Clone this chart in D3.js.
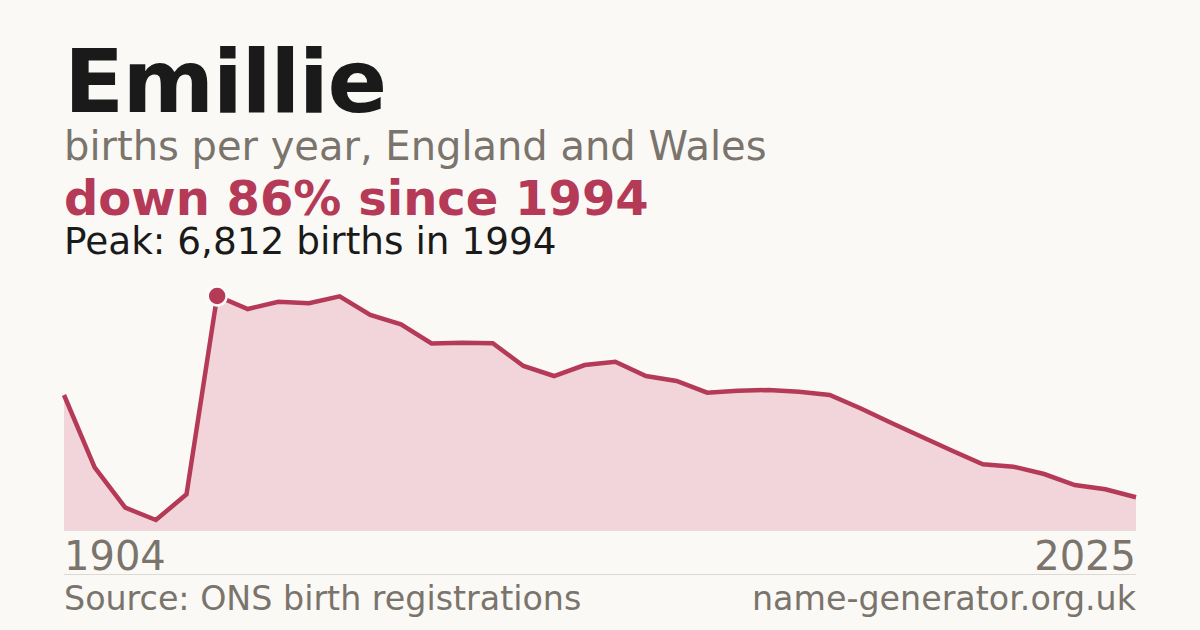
<!DOCTYPE html>
<html>
<head>
<meta charset="utf-8">
<script src="https://cdn.jsdelivr.net/npm/d3@7"></script>
<style>
  html, body { margin: 0; padding: 0; background: #faf9f5; }
  svg { display: block; font-family: "DejaVu Sans", sans-serif; }
</style>
</head>
<body>
<div id="chart"></div>
<script>
// data
var years = [1904, 1990, 1991, 1992, 1993, 1994, 1995, 1996, 1997, 1998, 1999, 2000,
             2001, 2002, 2003, 2004, 2005, 2006, 2007, 2008, 2009, 2010, 2011, 2012,
             2013, 2014, 2015, 2016, 2017, 2018, 2019, 2020, 2021, 2022, 2023, 2025];
var births = [3930, 1825, 649, 291, 1039, 6812, 6433, 6646, 6599, 6800, 6259, 5988,
              5429, 5452, 5435, 4774, 4483, 4803, 4899, 4483, 4337, 3997, 4055, 4075,
              4026, 3930, 3543, 3124, 2716, 2308, 1913, 1843, 1630, 1310, 1185, 954];
var tickLabels = ["1904", "2025"];

var name = "Emillie";
var subtitle = "births per year, England and Wales";
var headline = "down 86% since 1994";
var peakText = "Peak: 6,812 births in 1994";
var source = "Source: ONS birth registrations";
var site = "name-generator.org.uk";

var W = 1200, H = 630;
var margin = {left: 64, right: 64};
var plotTop = 296, plotBottom = 530;

var svg = d3.select("#chart").append("svg")
  .attr("width", W).attr("height", H);

svg.append("rect").attr("width", W).attr("height", H).attr("fill", "#faf9f5");

// titles
svg.append("text").attr("x", 64).attr("y", 112)
  .style("font-size", "88px").style("font-weight", "bold")
  .style("letter-spacing", "-1.5px").attr("fill", "#1a1a1a")
  .text(name);
svg.append("text").attr("x", 64).attr("y", 160)
  .style("font-size", "40px").attr("fill", "#7a746c")
  .text(subtitle);
svg.append("text").attr("x", 64).attr("y", 215)
  .style("font-size", "48px").style("font-weight", "bold").attr("fill", "#b43a58")
  .text(headline);
svg.append("text").attr("x", 64).attr("y", 254)
  .style("font-size", "37.4px").attr("fill", "#1a1a1a")
  .text(peakText);

// scales
var x = d3.scalePoint().domain(years).range([margin.left, W - margin.right]);
var y = d3.scaleLinear().domain([0, d3.max(births)]).range([plotBottom, plotTop]);

var pts = years.map(function(d, i) { return {year: d, value: births[i]}; });

var area = d3.area()
  .x(function(d) { return x(d.year); })
  .y0(plotBottom)
  .y1(function(d) { return y(d.value); });

var line = d3.line()
  .x(function(d) { return x(d.year); })
  .y(function(d) { return y(d.value); });

svg.append("path").datum(pts)
  .attr("d", area).attr("fill", "#f1d5da");

svg.append("line")
  .attr("x1", margin.left).attr("x2", W - margin.right)
  .attr("y1", plotBottom + 0.5).attr("y2", plotBottom + 0.5)
  .attr("stroke", "#e6dcd8").attr("stroke-width", 1);

svg.append("path").datum(pts)
  .attr("d", line).attr("fill", "none")
  .attr("stroke", "#b43a58").attr("stroke-width", 4.5)
  .attr("stroke-linejoin", "miter");

// peak marker
var peakIdx = d3.maxIndex(births);
svg.append("circle")
  .attr("cx", x(years[peakIdx])).attr("cy", y(births[peakIdx]))
  .attr("r", 9.5).attr("fill", "#b43a58")
  .attr("stroke", "#fdfcfa").attr("stroke-width", 2.5);

// x axis end labels
svg.append("text").attr("x", margin.left).attr("y", 570)
  .style("font-size", "40px").attr("fill", "#7a746c")
  .text(tickLabels[0]);
svg.append("text").attr("x", W - margin.right).attr("y", 570)
  .attr("text-anchor", "end")
  .style("font-size", "40px").attr("fill", "#7a746c")
  .text(tickLabels[1]);

// separator
svg.append("line")
  .attr("x1", margin.left).attr("x2", W - margin.right)
  .attr("y1", 574.5).attr("y2", 574.5)
  .attr("stroke", "#dcd8d2").attr("stroke-width", 1);

// footer
svg.append("text").attr("x", margin.left).attr("y", 610)
  .style("font-size", "33.3px").attr("fill", "#7a746c")
  .text(source);
svg.append("text").attr("x", W - margin.right).attr("y", 610)
  .attr("text-anchor", "end")
  .style("font-size", "33.3px").attr("fill", "#7a746c")
  .text(site);
</script>
</body>
</html>
